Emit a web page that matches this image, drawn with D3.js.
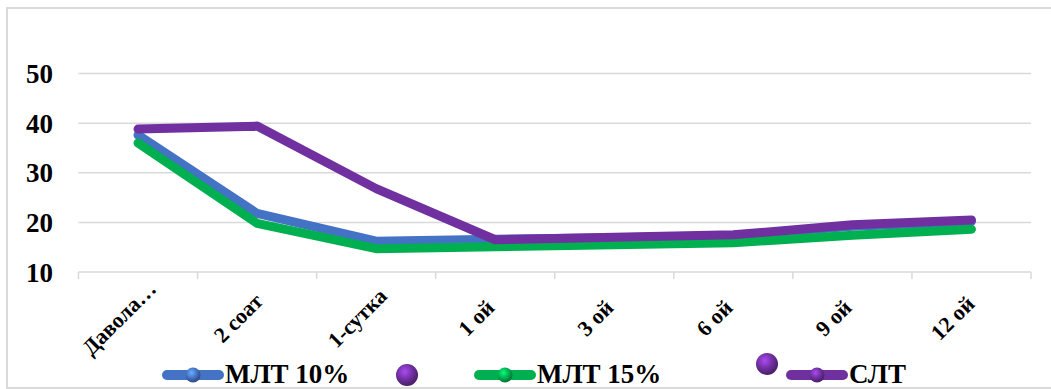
<!DOCTYPE html>
<html>
<head>
<meta charset="utf-8">
<script src="https://cdn.jsdelivr.net/npm/d3@7.9.0/dist/d3.min.js"></script>
<style>
  body { margin: 0; background: #fff; }
  text { font-family: "Liberation Serif", "Times New Roman", serif; font-weight: bold; fill: #000; }
</style>
</head>
<body>
<svg id="chart"></svg>
<script>
const categories = ["Давола…", "2 соат", "1-сутка", "1 ой", "3 ой", "6 ой", "9 ой", "12 ой"];
const mlt10 = [37.6, 21.8, 16.2, 16.6, 16.9, 17.3, 19.2, 20.2];
const mlt15 = [36.0, 19.8, 14.7, 15.1, 15.5, 15.9, 17.4, 18.6];
const slt = [38.8, 39.4, 26.8, 16.5, 17.0, 17.5, 19.5, 20.5];
const yTicks = [10, 20, 30, 40, 50];

const W = 1051, H = 389;
const plot = { left: 78.5, right: 1031, top: 73.5, bottom: 272 };

const series = [
  { name: "МЛТ 10%", values: mlt10, color: "#4472C4" },
  { name: "МЛТ 15%", values: mlt15, color: "#00B050" },
  { name: "СЛТ", values: slt, color: "#7030A0" }
];

const svg = d3.select("#chart").attr("width", W).attr("height", H);

const x = d3.scalePoint().domain(categories).range([plot.left, plot.right]).padding(0.5);
const y = d3.scaleLinear().domain([10, 50]).range([plot.bottom, plot.top]);

// gradients for the ball markers
const defs = svg.append("defs");
series.forEach((s, i) => {
  const g = defs.append("radialGradient").attr("id", "ball" + i)
    .attr("cx", "40%").attr("cy", "35%").attr("r", "65%");
  g.append("stop").attr("offset", "0%").attr("stop-color", d3.color(s.color).brighter(1.2));
  g.append("stop").attr("offset", "55%").attr("stop-color", s.color);
  g.append("stop").attr("offset", "100%").attr("stop-color", d3.color(s.color).darker(1.2));
});

// outer chart border
svg.append("rect")
  .attr("x", 7).attr("y", 8).attr("width", 1080).attr("height", 380)
  .attr("fill", "none").attr("stroke", "#d9d9d9").attr("stroke-width", 2);

// gridlines
svg.append("g")
  .selectAll("line")
  .data(yTicks.filter(d => d > 10))
  .join("line")
  .attr("x1", plot.left).attr("x2", plot.right)
  .attr("y1", d => y(d)).attr("y2", d => y(d))
  .attr("stroke", "#d9d9d9").attr("stroke-width", 1.5);

// x axis with ticks on band edges
const xAxis = svg.append("g");
xAxis.append("line")
  .attr("x1", plot.left).attr("x2", plot.right)
  .attr("y1", y(10)).attr("y2", y(10))
  .attr("stroke", "#d9d9d9").attr("stroke-width", 1.5);
const step = x.step();
xAxis.selectAll("line.tick")
  .data(d3.range(categories.length + 1))
  .join("line")
  .attr("class", "tick")
  .attr("x1", i => plot.left + i * step).attr("x2", i => plot.left + i * step)
  .attr("y1", y(10)).attr("y2", y(10) + 7)
  .attr("stroke", "#d9d9d9").attr("stroke-width", 1.5);

xAxis.selectAll("text")
  .data(categories)
  .join("text")
  .attr("transform", d => `translate(${x(d) - 19},${y(10) + 46}) rotate(-45)`)
  .attr("text-anchor", "middle")
  .attr("dominant-baseline", "central")
  .style("font-size", "22px")
  .text(d => d);

// y labels
svg.append("g")
  .selectAll("text")
  .data(yTicks)
  .join("text")
  .attr("x", 53)
  .attr("y", d => y(d) + 9.5)
  .attr("text-anchor", "end")
  .style("font-size", "27px")
  .text(d => d);

// lines
const line = d3.line()
  .x((d, i) => x(categories[i]))
  .y(d => y(d));

svg.append("g")
  .selectAll("path")
  .data(series)
  .join("path")
  .attr("d", s => line(s.values))
  .attr("fill", "none")
  .attr("stroke", s => s.color)
  .attr("stroke-width", 9)
  .attr("stroke-linecap", "round")
  .attr("stroke-linejoin", "round");

// legend
const legendItems = [
  { s: 0, x: 163, y: 375, line: true },
  { s: 2, x: 407, y: 375, line: false },
  { s: 1, x: 475, y: 375, line: true },
  { s: 2, x: 767, y: 364, line: false },
  { s: 2, x: 787, y: 375, line: true }
];

const legend = svg.append("g");
legendItems.forEach(item => {
  const s = series[item.s];
  const g = legend.append("g");
  if (item.line) {
    g.append("line")
      .attr("x1", item.x + 4).attr("x2", item.x + 56)
      .attr("y1", item.y).attr("y2", item.y)
      .attr("stroke", s.color).attr("stroke-width", 10)
      .attr("stroke-linecap", "round");
    g.append("circle")
      .attr("cx", item.x + 30).attr("cy", item.y).attr("r", 7.5)
      .attr("fill", `url(#ball${item.s})`);
    g.append("text")
      .attr("x", item.x + 62).attr("y", 383)
      .style("font-size", "27px")
      .text(s.name);
  } else {
    g.append("circle")
      .attr("cx", item.x).attr("cy", item.y).attr("r", 11)
      .attr("fill", `url(#ball${item.s})`);
  }
});
</script>
</body>
</html>
